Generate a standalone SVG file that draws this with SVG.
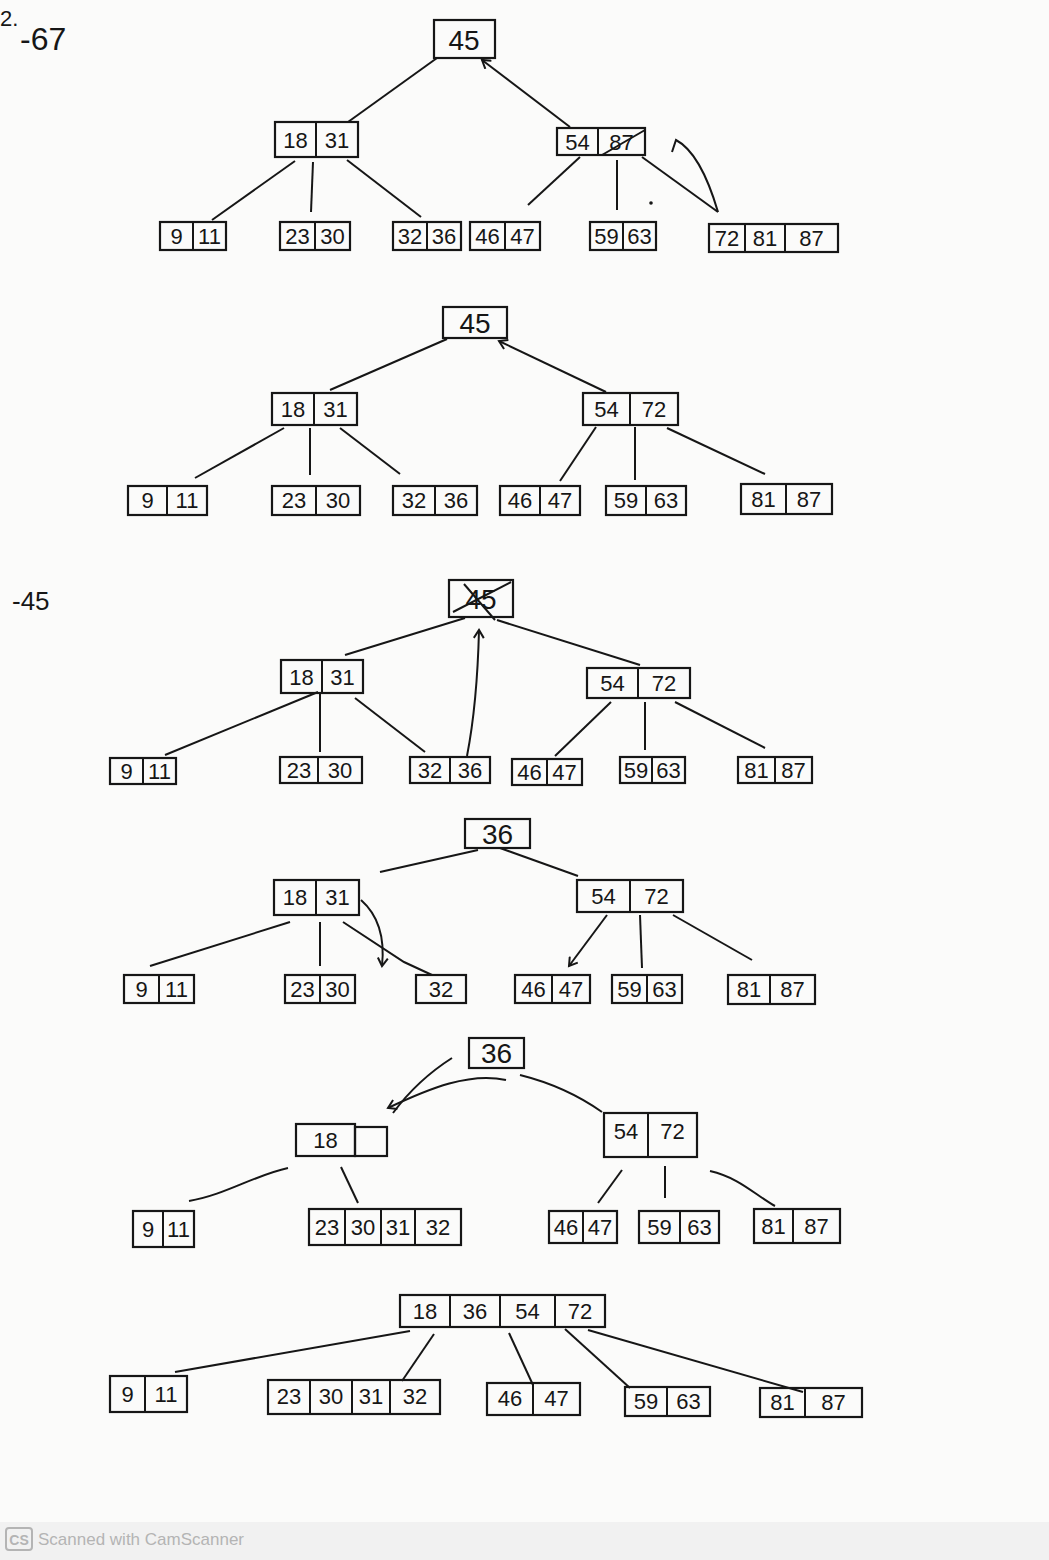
<svg xmlns="http://www.w3.org/2000/svg" width="1049" height="1560" viewBox="0 0 1049 1560">
<style>
.b{fill:none;stroke:#161616;stroke-width:2.2}
.d{stroke:#161616;stroke-width:2}
.e{fill:none;stroke:#161616;stroke-width:2}
.t{font-family:"Liberation Sans",Arial,sans-serif;font-size:22px;fill:#161616;text-anchor:middle}
.r{font-size:28px}
.lbl{font-family:"Liberation Sans",Arial,sans-serif;fill:#161616}
</style>
<defs>
<marker id="ah" markerWidth="12" markerHeight="12" refX="9" refY="6" orient="auto" markerUnits="userSpaceOnUse">
<path d="M1,1 L9,6 L1,11" fill="none" stroke="#161616" stroke-width="2"/>
</marker>
</defs>
<rect x="0" y="0" width="1049" height="1560" fill="#fbfbfa"/>
<rect x="0" y="1522" width="1049" height="38" fill="#f1f1f1"/>

<!-- labels -->
<text class="lbl" x="0" y="26" font-size="22">2.</text>
<text class="lbl" x="20" y="50" font-size="32">-67</text>
<text class="lbl" x="12" y="610" font-size="26">-45</text>

<!-- connectors -->
<g id="connectors">
<!-- tree 1 -->
<line class="e" x1="437" y1="58" x2="348" y2="122"/>
<line class="e" x1="570" y1="127" x2="482" y2="60" marker-end="url(#ah)"/>
<line class="e" x1="295" y1="161" x2="212" y2="220"/>
<line class="e" x1="313" y1="162" x2="311" y2="212"/>
<line class="e" x1="347" y1="160" x2="421" y2="217"/>
<line class="e" x1="580" y1="157" x2="528" y2="205"/>
<line class="e" x1="617" y1="160" x2="617" y2="210"/>
<line class="e" x1="642" y1="157" x2="718" y2="212"/>
<path class="e" d="M718,212 C708,178 695,150 676,140 L672,152"/>
<circle cx="651" cy="203" r="1.8" fill="#161616"/>
<!-- tree 2 -->
<line class="e" x1="447" y1="339" x2="330" y2="390"/>
<line class="e" x1="606" y1="392" x2="499" y2="341" marker-end="url(#ah)"/>
<line class="e" x1="284" y1="428" x2="195" y2="478"/>
<line class="e" x1="310" y1="428" x2="310" y2="475"/>
<line class="e" x1="340" y1="428" x2="400" y2="474"/>
<line class="e" x1="596" y1="427" x2="560" y2="481"/>
<line class="e" x1="635" y1="427" x2="635" y2="480"/>
<line class="e" x1="667" y1="428" x2="765" y2="474"/>
<!-- tree 3 -->
<line class="e" x1="465" y1="618" x2="345" y2="655"/>
<line class="e" x1="497" y1="620" x2="640" y2="665"/>
<line class="e" x1="318" y1="692" x2="165" y2="755"/>
<line class="e" x1="320" y1="693" x2="320" y2="752"/>
<line class="e" x1="355" y1="698" x2="425" y2="752"/>
<path class="e" d="M467,756 C474,720 478,670 479,630" marker-end="url(#ah)"/>
<line class="e" x1="611" y1="702" x2="555" y2="756"/>
<line class="e" x1="645" y1="702" x2="645" y2="750"/>
<line class="e" x1="675" y1="702" x2="765" y2="748"/>
<!-- tree 4 -->
<line class="e" x1="380" y1="872" x2="478" y2="850"/>
<line class="e" x1="500" y1="848" x2="578" y2="876"/>
<line class="e" x1="290" y1="922" x2="150" y2="966"/>
<line class="e" x1="320" y1="922" x2="320" y2="966"/>
<path class="e" d="M343,922 L404,962 L432,975"/>
<path class="e" d="M361,900 C378,915 385,938 382,966" marker-end="url(#ah)"/>
<line class="e" x1="607" y1="915" x2="569" y2="966" marker-end="url(#ah)"/>
<line class="e" x1="640" y1="915" x2="642" y2="968"/>
<line class="e" x1="673" y1="915" x2="752" y2="960"/>
<!-- tree 5 -->
<path class="e" d="M506,1080 C470,1072 430,1088 388,1108" marker-end="url(#ah)"/>
<path class="e" d="M452,1058 C430,1072 410,1090 393,1113"/>
<path class="e" d="M520,1075 C560,1085 585,1100 602,1112"/>
<path class="e" d="M189,1201 C225,1195 255,1175 288,1168"/>
<line class="e" x1="341" y1="1167" x2="358" y2="1203"/>
<line class="e" x1="622" y1="1170" x2="598" y2="1203"/>
<line class="e" x1="665" y1="1166" x2="665" y2="1198"/>
<path class="e" d="M710,1171 C740,1178 755,1195 775,1206"/>
<!-- tree 6 -->
<line class="e" x1="410" y1="1331" x2="175" y2="1372"/>
<line class="e" x1="434" y1="1334" x2="402" y2="1381"/>
<line class="e" x1="509" y1="1333" x2="533" y2="1385"/>
<line class="e" x1="565" y1="1329" x2="630" y2="1388"/>
<line class="e" x1="588" y1="1330" x2="803" y2="1392"/>
</g>

<!-- ===== Tree 1 ===== -->
<g id="t1-root"><rect class="b" x="434" y="20" width="61" height="38"/><text class="t r" x="464" y="50">45</text></g>
<g id="t1-n18-31"><rect class="b" x="275" y="122" width="83" height="35"/><line class="d" x1="316" y1="122" x2="316" y2="157"/><text class="t" x="295.5" y="148">18</text><text class="t" x="337" y="148">31</text></g>
<g id="t1-n54-87"><rect class="b" x="557" y="128" width="88" height="27"/><line class="d" x1="598" y1="128" x2="598" y2="155"/><text class="t" x="577.5" y="150">54</text><text class="t" x="621.5" y="150">87</text><line class="d" x1="602" y1="155" x2="645" y2="130"/></g>
<g id="t1-l9-11"><rect class="b" x="160" y="222" width="66" height="28"/><line class="d" x1="193" y1="222" x2="193" y2="250"/><text class="t" x="176.5" y="244">9</text><text class="t" x="209.5" y="244">11</text></g>
<g id="t1-l23-30"><rect class="b" x="280" y="222" width="70" height="28"/><line class="d" x1="315" y1="222" x2="315" y2="250"/><text class="t" x="297.5" y="244">23</text><text class="t" x="332.5" y="244">30</text></g>
<g id="t1-l32-36"><rect class="b" x="393" y="222" width="68" height="28"/><line class="d" x1="427" y1="222" x2="427" y2="250"/><text class="t" x="410" y="244">32</text><text class="t" x="444" y="244">36</text></g>
<g id="t1-l46-47"><rect class="b" x="470" y="222" width="70" height="28"/><line class="d" x1="505" y1="222" x2="505" y2="250"/><text class="t" x="487.5" y="244">46</text><text class="t" x="522.5" y="244">47</text></g>
<g id="t1-l59-63"><rect class="b" x="590" y="222" width="66" height="28"/><line class="d" x1="623" y1="222" x2="623" y2="250"/><text class="t" x="606.5" y="244">59</text><text class="t" x="639.5" y="244">63</text></g>
<g id="t1-l72-81-87"><rect class="b" x="709" y="224" width="129" height="28"/><line class="d" x1="745" y1="224" x2="745" y2="252"/><line class="d" x1="785" y1="224" x2="785" y2="252"/><text class="t" x="727" y="246">72</text><text class="t" x="765" y="246">81</text><text class="t" x="811.5" y="246">87</text></g>

<!-- ===== Tree 2 ===== -->
<g id="t2-root"><rect class="b" x="443" y="307" width="64" height="31"/><text class="t r" x="475" y="333">45</text></g>
<g id="t2-n18-31"><rect class="b" x="272" y="393" width="85" height="32"/><line class="d" x1="314" y1="393" x2="314" y2="425"/><text class="t" x="293" y="417">18</text><text class="t" x="335.5" y="417">31</text></g>
<g id="t2-n54-72"><rect class="b" x="583" y="393" width="95" height="32"/><line class="d" x1="630" y1="393" x2="630" y2="425"/><text class="t" x="606.5" y="417">54</text><text class="t" x="654" y="417">72</text></g>
<g id="t2-l9-11"><rect class="b" x="128" y="486" width="79" height="29"/><line class="d" x1="167" y1="486" x2="167" y2="515"/><text class="t" x="147.5" y="508">9</text><text class="t" x="187" y="508">11</text></g>
<g id="t2-l23-30"><rect class="b" x="272" y="486" width="88" height="29"/><line class="d" x1="316" y1="486" x2="316" y2="515"/><text class="t" x="294" y="508">23</text><text class="t" x="338" y="508">30</text></g>
<g id="t2-l32-36"><rect class="b" x="393" y="486" width="84" height="29"/><line class="d" x1="435" y1="486" x2="435" y2="515"/><text class="t" x="414" y="508">32</text><text class="t" x="456" y="508">36</text></g>
<g id="t2-l46-47"><rect class="b" x="500" y="486" width="80" height="29"/><line class="d" x1="540" y1="486" x2="540" y2="515"/><text class="t" x="520" y="508">46</text><text class="t" x="560" y="508">47</text></g>
<g id="t2-l59-63"><rect class="b" x="606" y="486" width="80" height="29"/><line class="d" x1="646" y1="486" x2="646" y2="515"/><text class="t" x="626" y="508">59</text><text class="t" x="666" y="508">63</text></g>
<g id="t2-l81-87"><rect class="b" x="741" y="484" width="91" height="30"/><line class="d" x1="786" y1="484" x2="786" y2="514"/><text class="t" x="763.5" y="507">81</text><text class="t" x="809" y="507">87</text></g>

<!-- ===== Tree 3 ===== -->
<g id="t3-root"><rect class="b" x="449" y="580" width="64" height="37"/><text class="t r" x="481" y="609">45</text><line class="d" x1="453" y1="612" x2="511" y2="582"/><line class="d" x1="464" y1="584" x2="495" y2="620"/></g>
<g id="t3-n18-31"><rect class="b" x="281" y="660" width="82" height="33"/><line class="d" x1="322" y1="660" x2="322" y2="693"/><text class="t" x="301.5" y="685">18</text><text class="t" x="342.5" y="685">31</text></g>
<g id="t3-n54-72"><rect class="b" x="587" y="668" width="103" height="30"/><line class="d" x1="638" y1="668" x2="638" y2="698"/><text class="t" x="612.5" y="691">54</text><text class="t" x="664" y="691">72</text></g>
<g id="t3-l9-11"><rect class="b" x="110" y="758" width="66" height="26"/><line class="d" x1="143" y1="758" x2="143" y2="784"/><text class="t" x="126.5" y="779">9</text><text class="t" x="159.5" y="779">11</text></g>
<g id="t3-l23-30"><rect class="b" x="280" y="757" width="82" height="26"/><line class="d" x1="318" y1="757" x2="318" y2="783"/><text class="t" x="299" y="778">23</text><text class="t" x="340" y="778">30</text></g>
<g id="t3-l32-36"><rect class="b" x="410" y="757" width="80" height="26"/><line class="d" x1="450" y1="757" x2="450" y2="783"/><text class="t" x="430" y="778">32</text><text class="t" x="470" y="778">36</text></g>
<g id="t3-l46-47"><rect class="b" x="512" y="759" width="70" height="26"/><line class="d" x1="547" y1="759" x2="547" y2="785"/><text class="t" x="529.5" y="780">46</text><text class="t" x="564.5" y="780">47</text></g>
<g id="t3-l59-63"><rect class="b" x="620" y="757" width="65" height="26"/><line class="d" x1="652" y1="757" x2="652" y2="783"/><text class="t" x="636" y="778">59</text><text class="t" x="668.5" y="778">63</text></g>
<g id="t3-l81-87"><rect class="b" x="738" y="757" width="74" height="26"/><line class="d" x1="775" y1="757" x2="775" y2="783"/><text class="t" x="756.5" y="778">81</text><text class="t" x="793.5" y="778">87</text></g>

<!-- ===== Tree 4 ===== -->
<g id="t4-root"><rect class="b" x="465" y="819" width="65" height="29"/><text class="t r" x="497.5" y="844">36</text></g>
<g id="t4-n18-31"><rect class="b" x="274" y="880" width="85" height="35"/><line class="d" x1="316" y1="880" x2="316" y2="915"/><text class="t" x="295" y="905">18</text><text class="t" x="337.5" y="905">31</text></g>
<g id="t4-n54-72"><rect class="b" x="577" y="880" width="106" height="32"/><line class="d" x1="630" y1="880" x2="630" y2="912"/><text class="t" x="603.5" y="904">54</text><text class="t" x="656.5" y="904">72</text></g>
<g id="t4-l9-11"><rect class="b" x="124" y="975" width="70" height="28"/><line class="d" x1="159" y1="975" x2="159" y2="1003"/><text class="t" x="141.5" y="997">9</text><text class="t" x="176.5" y="997">11</text></g>
<g id="t4-l23-30"><rect class="b" x="285" y="975" width="70" height="28"/><line class="d" x1="320" y1="975" x2="320" y2="1003"/><text class="t" x="302.5" y="997">23</text><text class="t" x="337.5" y="997">30</text></g>
<g id="t4-l32"><rect class="b" x="416" y="975" width="50" height="28"/><text class="t" x="441" y="997">32</text></g>
<g id="t4-l46-47"><rect class="b" x="515" y="975" width="75" height="28"/><line class="d" x1="552" y1="975" x2="552" y2="1003"/><text class="t" x="533.5" y="997">46</text><text class="t" x="571" y="997">47</text></g>
<g id="t4-l59-63"><rect class="b" x="612" y="975" width="70" height="28"/><line class="d" x1="647" y1="975" x2="647" y2="1003"/><text class="t" x="629.5" y="997">59</text><text class="t" x="664.5" y="997">63</text></g>
<g id="t4-l81-87"><rect class="b" x="728" y="975" width="87" height="29"/><line class="d" x1="770" y1="975" x2="770" y2="1004"/><text class="t" x="749" y="997">81</text><text class="t" x="792.5" y="997">87</text></g>

<!-- ===== Tree 5 ===== -->
<g id="t5-root"><rect class="b" x="469" y="1038" width="55" height="30"/><text class="t r" x="496.5" y="1063">36</text></g>
<g id="t5-n18"><rect class="b" x="296" y="1124" width="59" height="32"/><rect class="b" x="355" y="1127" width="32" height="29"/><text class="t" x="325.5" y="1148">18</text></g>
<g id="t5-n54-72"><rect class="b" x="604" y="1113" width="93" height="44"/><line class="d" x1="648" y1="1113" x2="648" y2="1157"/><text class="t" x="626" y="1139">54</text><text class="t" x="672.5" y="1139">72</text></g>
<g id="t5-l9-11"><rect class="b" x="133" y="1211" width="61" height="36"/><line class="d" x1="163" y1="1211" x2="163" y2="1247"/><text class="t" x="148" y="1237">9</text><text class="t" x="178.5" y="1237">11</text></g>
<g id="t5-l23-32"><rect class="b" x="309" y="1209" width="152" height="36"/><line class="d" x1="345" y1="1209" x2="345" y2="1245"/><line class="d" x1="381" y1="1209" x2="381" y2="1245"/><line class="d" x1="415" y1="1209" x2="415" y2="1245"/><text class="t" x="327" y="1235">23</text><text class="t" x="363" y="1235">30</text><text class="t" x="398" y="1235">31</text><text class="t" x="438" y="1235">32</text></g>
<g id="t5-l46-47"><rect class="b" x="549" y="1211" width="68" height="32"/><line class="d" x1="583" y1="1211" x2="583" y2="1243"/><text class="t" x="566" y="1235">46</text><text class="t" x="600" y="1235">47</text></g>
<g id="t5-l59-63"><rect class="b" x="639" y="1211" width="80" height="32"/><line class="d" x1="680" y1="1211" x2="680" y2="1243"/><text class="t" x="659.5" y="1235">59</text><text class="t" x="699.5" y="1235">63</text></g>
<g id="t5-l81-87"><rect class="b" x="754" y="1209" width="86" height="34"/><line class="d" x1="793" y1="1209" x2="793" y2="1243"/><text class="t" x="773.5" y="1234">81</text><text class="t" x="816.5" y="1234">87</text></g>

<!-- ===== Tree 6 ===== -->
<g id="t6-root"><rect class="b" x="400" y="1295" width="205" height="32"/><line class="d" x1="450" y1="1295" x2="450" y2="1327"/><line class="d" x1="500" y1="1295" x2="500" y2="1327"/><line class="d" x1="555" y1="1295" x2="555" y2="1327"/><text class="t" x="425" y="1319">18</text><text class="t" x="475" y="1319">36</text><text class="t" x="527.5" y="1319">54</text><text class="t" x="580" y="1319">72</text></g>
<g id="t6-l9-11"><rect class="b" x="110" y="1376" width="77" height="36"/><line class="d" x1="145" y1="1376" x2="145" y2="1412"/><text class="t" x="127.5" y="1402">9</text><text class="t" x="166" y="1402">11</text></g>
<g id="t6-l23-32"><rect class="b" x="268" y="1380" width="172" height="34"/><line class="d" x1="310" y1="1380" x2="310" y2="1414"/><line class="d" x1="352" y1="1380" x2="352" y2="1414"/><line class="d" x1="390" y1="1380" x2="390" y2="1414"/><text class="t" x="289" y="1404">23</text><text class="t" x="331" y="1404">30</text><text class="t" x="371" y="1404">31</text><text class="t" x="415" y="1404">32</text></g>
<g id="t6-l46-47"><rect class="b" x="487" y="1383" width="93" height="32"/><line class="d" x1="533" y1="1383" x2="533" y2="1415"/><text class="t" x="510" y="1406">46</text><text class="t" x="556.5" y="1406">47</text></g>
<g id="t6-l59-63"><rect class="b" x="625" y="1387" width="85" height="29"/><line class="d" x1="667" y1="1387" x2="667" y2="1416"/><text class="t" x="646" y="1409">59</text><text class="t" x="688.5" y="1409">63</text></g>
<g id="t6-l81-87"><rect class="b" x="760" y="1388" width="102" height="29"/><line class="d" x1="805" y1="1388" x2="805" y2="1417"/><text class="t" x="782.5" y="1410">81</text><text class="t" x="833.5" y="1410">87</text></g>

<!-- footer -->
<g id="footer">
<rect x="6" y="1528" width="26" height="22" rx="3" fill="none" stroke="#b4b4b4" stroke-width="2"/>
<text x="19" y="1545" font-family="'Liberation Sans',Arial,sans-serif" font-size="14" font-weight="bold" fill="#b4b4b4" text-anchor="middle">CS</text>
<text x="38" y="1545" font-family="'Liberation Sans',Arial,sans-serif" font-size="17" fill="#b4b4b4">Scanned with CamScanner</text>
</g>
</svg>
